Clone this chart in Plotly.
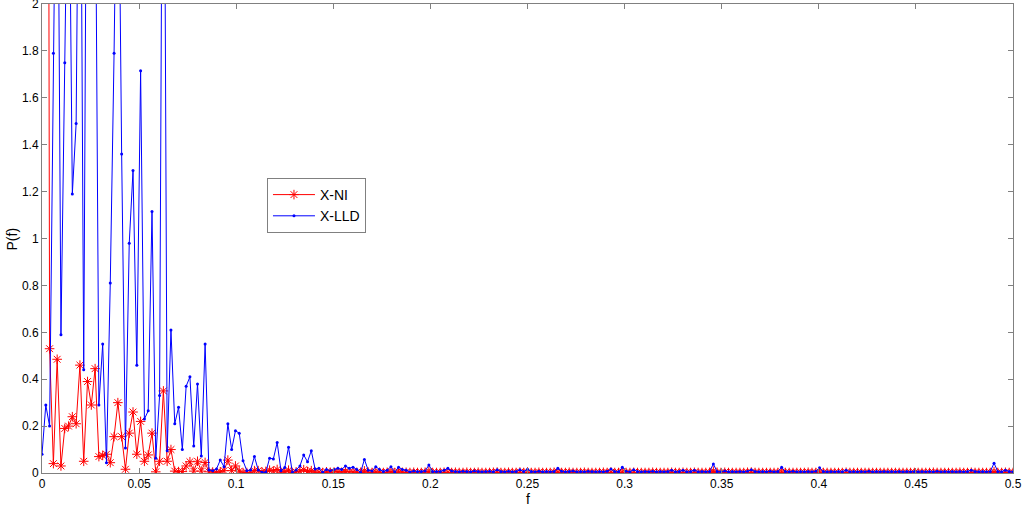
import plotly.graph_objects as go

N_FFT = 512
n_points = 257

x_ni = [
    6.0, 9.0, 0.53, 0.04, 0.485, 0.03, 0.19, 0.20, 0.24, 0.21,
    0.46, 0.05, 0.39, 0.29, 0.445, 0.07, 0.075, 0.08, 0.044, 0.155,
    0.30, 0.155, 0.016, 0.17, 0.26, 0.08, 0.22, 0.05, 0.077, 0.17,
    0.005, 0.05, 0.35, 0.05, 0.10, 0.008, 0.006, 0.006, 0.03, 0.048,
    0.008, 0.05, 0.008, 0.045, 0.005, 0.004, 0.003, 0.005, 0.01, 0.055,
    0.01, 0.03, 0.008, 0.001, 0.002, 0.001, 0.01, 0.01, 0.004, 0.006,
    0.012, 0.008, 0.015, 0.003, 0.006, 0.012, 0.002, 0.004, 0.008, 0.014,
    0.006, 0.01, 0.003, 0.004, 0.002, 0.005, 0.003, 0.004, 0.006, 0.003,
    0.007, 0.004, 0.005, 0.003, 0.002, 0.009, 0.003, 0.002, 0.005, 0.003,
    0.002, 0.003, 0.006, 0.002, 0.005, 0.003, 0.003, 0.002, 0.003, 0.002,
    0.002, 0.003, 0.007, 0.002, 0.002, 0.002, 0.003, 0.004, 0.002, 0.003,
    0.002, 0.002, 0.003, 0.002, 0.002, 0.003, 0.002, 0.002, 0.002, 0.003,
    0.004, 0.002, 0.002, 0.003, 0.002, 0.002, 0.004, 0.002, 0.004, 0.002,
    0.002, 0.003, 0.002, 0.002, 0.002, 0.003, 0.005, 0.002, 0.002, 0.003,
    0.002, 0.002, 0.002, 0.003, 0.002, 0.002, 0.002, 0.002, 0.003, 0.002,
    0.004, 0.002, 0.002, 0.005, 0.002, 0.002, 0.003, 0.002, 0.002, 0.002,
    0.002, 0.003, 0.002, 0.002, 0.002, 0.002, 0.003, 0.002, 0.002, 0.003,
    0.002, 0.002, 0.003, 0.002, 0.002, 0.002, 0.002, 0.008, 0.002, 0.002,
    0.003, 0.002, 0.002, 0.002, 0.002, 0.002, 0.003, 0.004, 0.002, 0.002,
    0.002, 0.002, 0.002, 0.002, 0.002, 0.005, 0.002, 0.002, 0.002, 0.002,
    0.002, 0.002, 0.003, 0.002, 0.002, 0.005, 0.002, 0.002, 0.002, 0.002,
    0.002, 0.002, 0.003, 0.002, 0.002, 0.002, 0.002, 0.002, 0.002, 0.002,
    0.002, 0.002, 0.002, 0.002, 0.002, 0.002, 0.002, 0.002, 0.002, 0.002,
    0.002, 0.002, 0.002, 0.002, 0.002, 0.003, 0.002, 0.002, 0.002, 0.002,
    0.002, 0.002, 0.003, 0.002, 0.002, 0.003, 0.002, 0.002, 0.002, 0.002,
    0.002, 0.006, 0.002, 0.002, 0.003, 0.002, 0.002,
]

x_lld = [
    0.08, 0.29, 0.20, 1.79, 3.2, 0.59, 1.75, 2.9, 1.19, 1.49,
    3.4, 0.44, 3.6, 4.2, 2.8, 0.29, 0.55, 0.044, 0.81, 1.79,
    3.0, 1.36, 0.107, 0.98, 1.29, 0.46, 1.715, 0.23, 0.265, 1.115,
    0.063, 0.33, 3.8, 0.095, 0.61, 0.21, 0.28, 0.10, 0.37, 0.41,
    0.115, 0.38, 0.072, 0.55, 0.013, 0.01, 0.017, 0.055, 0.027, 0.21,
    0.10, 0.18, 0.17, 0.052, 0.01, 0.013, 0.07, 0.013, 0.003, 0.003,
    0.063, 0.06, 0.13, 0.01, 0.023, 0.11, 0.002, 0.013, 0.03, 0.077,
    0.048, 0.095, 0.017, 0.02, 0.003, 0.015, 0.01, 0.015, 0.02, 0.015,
    0.03, 0.02, 0.025, 0.015, 0.002, 0.058, 0.012, 0.008, 0.027, 0.015,
    0.006, 0.012, 0.027, 0.004, 0.025, 0.015, 0.012, 0.004, 0.008, 0.006,
    0.006, 0.008, 0.034, 0.006, 0.006, 0.006, 0.012, 0.02, 0.008, 0.006,
    0.005, 0.007, 0.006, 0.005, 0.008, 0.006, 0.005, 0.006, 0.007, 0.005,
    0.014, 0.006, 0.005, 0.007, 0.005, 0.006, 0.014, 0.006, 0.016, 0.006,
    0.005, 0.007, 0.005, 0.006, 0.005, 0.006, 0.02, 0.007, 0.005, 0.006,
    0.008, 0.005, 0.006, 0.005, 0.007, 0.006, 0.005, 0.006, 0.005, 0.007,
    0.017, 0.006, 0.005, 0.024, 0.007, 0.005, 0.014, 0.006, 0.005, 0.006,
    0.005, 0.007, 0.005, 0.006, 0.005, 0.006, 0.012, 0.005, 0.006, 0.012,
    0.005, 0.006, 0.012, 0.005, 0.006, 0.005, 0.006, 0.038, 0.006, 0.005,
    0.008, 0.005, 0.006, 0.005, 0.006, 0.005, 0.007, 0.014, 0.006, 0.005,
    0.006, 0.005, 0.007, 0.005, 0.006, 0.024, 0.006, 0.005, 0.007, 0.005,
    0.006, 0.005, 0.006, 0.005, 0.007, 0.022, 0.006, 0.005, 0.006, 0.005,
    0.006, 0.005, 0.012, 0.005, 0.006, 0.005, 0.006, 0.005, 0.007, 0.005,
    0.006, 0.005, 0.006, 0.005, 0.006, 0.005, 0.006, 0.005, 0.006, 0.005,
    0.006, 0.005, 0.006, 0.005, 0.006, 0.005, 0.007, 0.005, 0.006, 0.005,
    0.006, 0.005, 0.006, 0.005, 0.006, 0.012, 0.006, 0.005, 0.006, 0.005,
    0.006, 0.042, 0.006, 0.005, 0.012, 0.006, 0.005,
]

freqs = [k / N_FFT for k in range(n_points)]

x_tickvals = [0, 0.05, 0.1, 0.15, 0.2, 0.25, 0.3, 0.35, 0.4, 0.45, 0.5]
x_ticktext = ["0", "0.05", "0.1", "0.15", "0.2", "0.25", "0.3", "0.35", "0.4", "0.45", "0.5"]
y_tickvals = [0, 0.2, 0.4, 0.6, 0.8, 1, 1.2, 1.4, 1.6, 1.8, 2]
y_ticktext = ["0", "0.2", "0.4", "0.6", "0.8", "1", "1.2", "1.4", "1.6", "1.8", "2"]

fig = go.Figure()
fig.add_trace(go.Scatter(
    x=freqs, y=x_ni, mode="lines+markers", name="X-NI",
    line=dict(color="#ff0000", width=1),
    marker=dict(symbol="asterisk-open", size=8, color="#ff0000",
                line=dict(color="#ff0000", width=1)),
))
fig.add_trace(go.Scatter(
    x=freqs, y=x_lld, mode="lines+markers", name="X-LLD",
    line=dict(color="#0000ff", width=1),
    marker=dict(symbol="circle", size=3, color="#0000ff"),
))

axis_common = dict(
    showgrid=False, zeroline=False, showline=True, linecolor="#808080",
    linewidth=1, mirror="ticks", ticks="inside", ticklen=5,
    tickcolor="#808080", automargin=False, ticklabeloverflow="allow",
    tickfont=dict(family="Liberation Sans, Arial", size=12, color="#000"),
)

fig.update_layout(
    width=1024, height=507,
    margin=dict(l=42, r=11, t=4, b=34),
    paper_bgcolor="white", plot_bgcolor="white",
    font=dict(family="Liberation Sans, Arial", color="#000"),
    xaxis=dict(range=[0, 0.5], tickvals=x_tickvals, ticktext=x_ticktext, **axis_common),
    yaxis=dict(range=[0, 2], tickvals=y_tickvals, ticktext=y_ticktext, **axis_common),
    legend=dict(x=0.2317, y=0.629, xanchor="left", yanchor="top",
                bgcolor="white", bordercolor="#808080", borderwidth=1,
                font=dict(size=14), itemwidth=42, tracegroupgap=0),
    showlegend=True,
    annotations=[
        dict(text="f", xref="paper", yref="paper", x=0.5, y=-0.0554,
             xanchor="center", yanchor="middle", showarrow=False,
             font=dict(size=14)),
        dict(text="P(f)", xref="paper", yref="paper", x=-0.0412, y=0.5,
             xanchor="left", yanchor="middle", textangle=-90, showarrow=False,
             font=dict(size=14)),
    ],
)

fig.write_html("out.html", config={"displayModeBar": False},
               post_script="document.body.style.margin='0';document.body.style.overflow='hidden';")
